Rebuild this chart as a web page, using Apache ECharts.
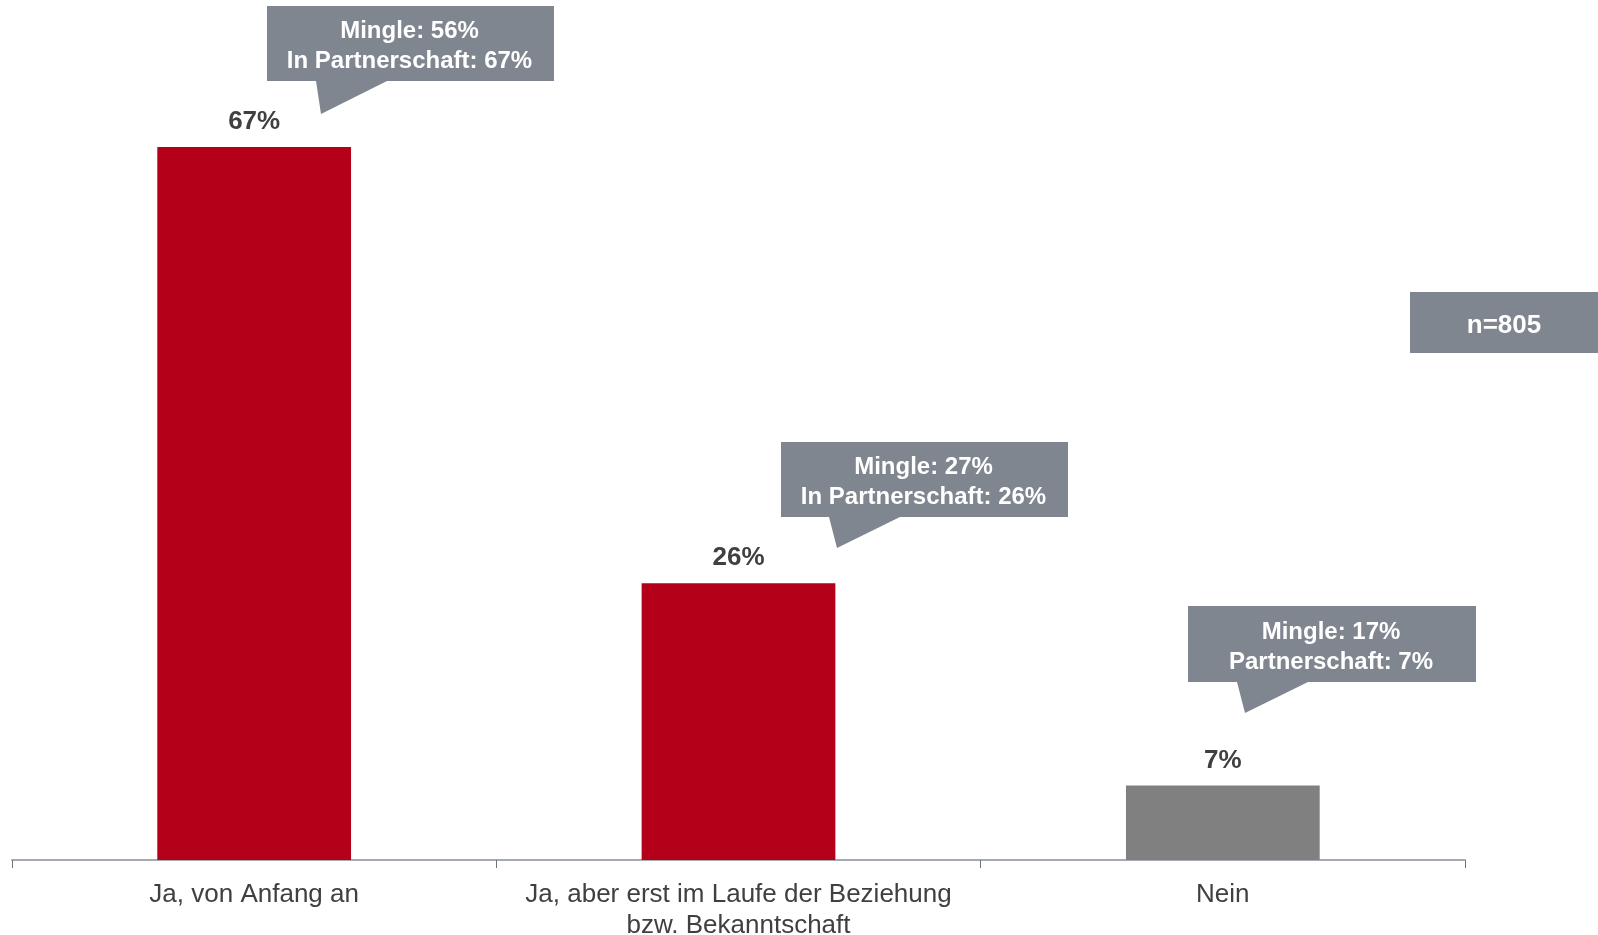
<!DOCTYPE html>
<html>
<head>
<meta charset="utf-8">
<script src="https://cdn.jsdelivr.net/npm/echarts@6/dist/echarts.min.js"></script>
<style>
  html, body { margin: 0; padding: 0; background: #fff; }
  #chart { width: 1598px; height: 935px; }
</style>
</head>
<body>
<div id="chart"></div>
<script>
// Daten
var categories = ['Ja, von Anfang an', 'Ja, aber erst im Laufe der Beziehung\nbzw. Bekanntschaft', 'Nein'];
var values = [67, 26, 7];
var barColors = ['#b50019', '#b50019', '#808080'];
var calloutTexts = [
  'Mingle: 56%\nIn Partnerschaft: 67%',
  'Mingle: 27%\nIn Partnerschaft: 26%',
  'Mingle: 17%\nPartnerschaft: 7%'
];
var sampleText = 'n=805';

// Sprechblasen (Position in Pixel)
var calloutBoxes = [
  { x: 267, y: 6, w: 287, h: 75, bl: 316, br: 387, tx: 321, ty: 114 },
  { x: 781, y: 442, w: 287, h: 75, bl: 829, br: 900, tx: 837, ty: 548 },
  { x: 1188, y: 606, w: 288, h: 76, bl: 1237, br: 1308, tx: 1245, ty: 713 }
];

var boxColor = '#7f868f';
var font = '"Liberation Sans", Arial, sans-serif';

var chart = echarts.init(document.getElementById('chart'));

var graphics = [];
calloutBoxes.forEach(function (b, i) {
  var bottom = b.y + b.h;
  graphics.push({
    type: 'polygon',
    shape: {
      points: [
        [b.x, b.y], [b.x + b.w, b.y], [b.x + b.w, bottom],
        [b.br, bottom], [b.tx, b.ty], [b.bl, bottom], [b.x, bottom]
      ]
    },
    style: { fill: boxColor },
    silent: true
  });
  graphics.push({
    type: 'text',
    x: b.x + b.w / 2 - 1,
    y: b.y + b.h / 2 + 3,
    style: {
      text: calloutTexts[i],
      fill: '#fff',
      font: 'bold 24px ' + font,
      lineHeight: 30,
      align: 'center',
      verticalAlign: 'middle'
    },
    silent: true
  });
});
// n=805
graphics.push({
  type: 'rect',
  shape: { x: 1410, y: 292, width: 188, height: 61 },
  style: { fill: boxColor },
  silent: true
});
graphics.push({
  type: 'text',
  x: 1504, y: 326,
  style: {
    text: sampleText,
    fill: '#fff',
    font: 'bold 26px ' + font,
    align: 'center',
    verticalAlign: 'middle'
  },
  silent: true
});

var option = {
  backgroundColor: '#fff',
  animation: false,
  textStyle: { fontFamily: font },
  grid: { left: 12, right: 133, top: 115, bottom: 75, containLabel: false, outerBoundsMode: 'none' },
  xAxis: {
    type: 'category',
    data: categories,
    axisLine: { lineStyle: { color: '#a6abb3', width: 2 } },
    axisTick: { show: true, length: 8, lineStyle: { color: '#6b7480', width: 1 } },
    axisLabel: {
      color: '#404040',
      fontSize: 26,
      lineHeight: 31,
      margin: 19,
      interval: 0,
      fontFamily: font
    }
  },
  yAxis: {
    type: 'value',
    min: 0,
    max: 70,
    show: false,
    splitLine: { show: false }
  },
  series: [{
    type: 'bar',
    barWidth: '40%',
    data: values.map(function (v, i) {
      return { value: v, itemStyle: { color: barColors[i] } };
    }),
    label: {
      show: true,
      position: 'top',
      distance: 12,
      formatter: '{c}%',
      color: '#404040',
      fontSize: 26,
      fontWeight: 'bold',
      fontFamily: font
    }
  }],
  graphic: graphics
};

chart.setOption(option);
</script>
</body>
</html>
